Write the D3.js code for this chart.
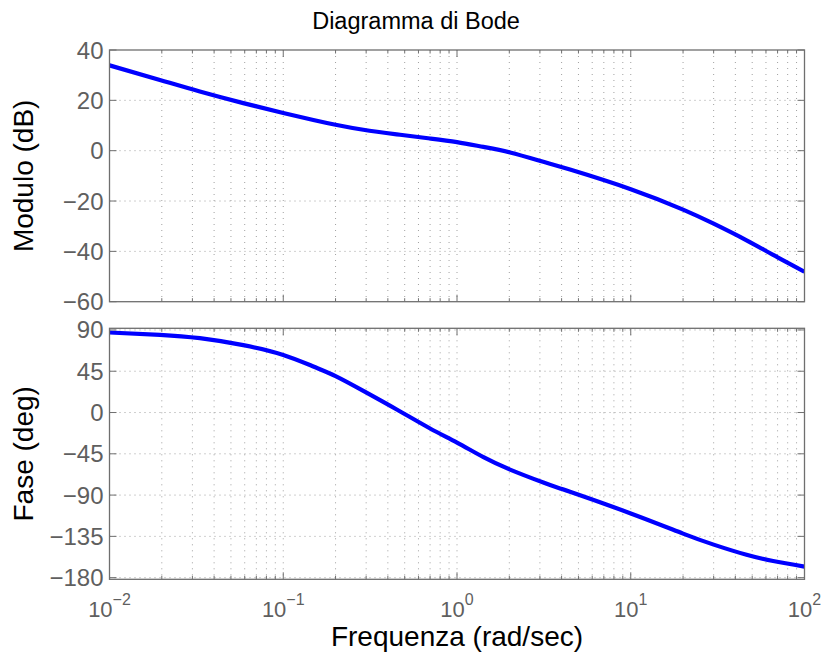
<!DOCTYPE html>
<html>
<head>
<meta charset="utf-8">
<script src="https://cdn.jsdelivr.net/npm/d3@7/dist/d3.min.js"></script>
<style>
  html, body { margin: 0; padding: 0; background: #ffffff; }
  svg { display: block; font-family: "Liberation Sans", Arial, Helvetica, sans-serif; }
</style>
</head>
<body>
<svg id="chart" width="821" height="655"></svg>
<script>
// ---- data ----
const magFreq = [0.01, 0.0195, 0.0331, 0.0589, 0.1, 0.149, 0.2, 0.289, 0.45, 0.70, 1.0, 1.42, 2.02, 3.14, 4.47, 10, 20, 30, 46.4, 66, 100];
const magDb   = [33.9, 28.1, 23.5, 18.9, 15.0, 12.2, 10.3, 8.3, 6.5, 4.85, 3.4, 1.5, -0.7, -4.4, -7.5, -15.3, -23.4, -29.0, -35.6, -41.4, -48.1];

const phaseFreq = [0.01, 0.0195, 0.0331, 0.0589, 0.1, 0.149, 0.2, 0.289, 0.45, 0.70, 1.0, 1.42, 2.02, 3.14, 3.92, 4.47, 10, 20, 30, 46.4, 66, 100];
const phaseDeg  = [87.2, 84.7, 81.0, 73.4, 62.8, 50.2, 39.7, 23.6, 3.3, -17.4, -32.8, -48.7, -62.2, -76.3, -82.9, -86.4, -110.0, -132.0, -144.0, -155.1, -161.9, -168.0];

const xTickValues = [0.01, 0.1, 1, 10, 100];
const xTickExponents = ["\u22122", "\u22121", "0", "1", "2"];
const magTicks = [40, 20, 0, -20, -40, -60];
const phaseTicks = [90, 45, 0, -45, -90, -135, -180];

const titleText = "Diagramma di Bode";
const xLabelText = "Frequenza (rad/sec)";
const magLabelText = "Modulo (dB)";
const phaseLabelText = "Fase (deg)";

// ---- layout ----
const svg = d3.select("#chart");
const left = 109.5, right = 804.5;
const magTop = 50, magBottom = 301.7;
const phTop = 328.3, phBottom = 579.3;

const x = d3.scaleLog().domain([0.01, 100]).range([left, right]);
const yMag = d3.scaleLinear().domain([-60, 40]).range([magBottom, magTop]);
const yPh = d3.scaleLinear().domain([-181.8, 91.8]).range([phBottom, phTop]);

const minorX = [];
for (let e = -2; e < 2; e++) {
  for (let m = 1; m <= 9; m++) minorX.push(m * Math.pow(10, e));
}
minorX.push(100);

const boxColor = "#6f6f6f";
const gridColor = "#a0a0a0";
const tickTextColor = "#5f5f5f";

function drawPanel(y, yTicks, top, bottom, freqs, vals, clipId) {
  const g = svg.append("g");
  g.selectAll(".vg").data(minorX.filter(v => v > 0.01 && v < 100)).enter().append("line")
    .attr("x1", d => x(d)).attr("x2", d => x(d))
    .attr("y1", top).attr("y2", bottom)
    .attr("stroke", gridColor).attr("stroke-width", 1)
    .attr("stroke-dasharray", "1,5");
  g.selectAll(".hg").data(yTicks.filter(v => y(v) > top + 1 && y(v) < bottom - 1)).enter().append("line")
    .attr("x1", left).attr("x2", right)
    .attr("y1", d => y(d)).attr("y2", d => y(d))
    .attr("stroke", gridColor).attr("stroke-width", 1)
    .attr("stroke-dasharray", "1,4");

  svg.append("clipPath").attr("id", clipId).append("rect")
    .attr("x", left).attr("y", top).attr("width", right - left).attr("height", bottom - top);

  const line = d3.line()
    .x(d => x(d[0])).y(d => y(d[1]))
    .curve(d3.curveNatural);
  svg.append("path")
    .datum(freqs.map((f, i) => [f, vals[i]]))
    .attr("d", line)
    .attr("fill", "none")
    .attr("stroke", "#0000ff")
    .attr("stroke-width", 4.2)
    .attr("stroke-linejoin", "round")
    .attr("clip-path", `url(#${clipId})`);

  svg.append("rect")
    .attr("x", left).attr("y", top).attr("width", right - left).attr("height", bottom - top)
    .attr("fill", "none").attr("stroke", boxColor).attr("stroke-width", 1.3);

  const tk = svg.append("g").attr("stroke", boxColor).attr("stroke-width", 1);
  minorX.forEach(v => {
    const major = xTickValues.includes(v);
    const len = major ? 7 : 3.5;
    tk.append("line").attr("x1", x(v)).attr("x2", x(v)).attr("y1", bottom).attr("y2", bottom - len);
    tk.append("line").attr("x1", x(v)).attr("x2", x(v)).attr("y1", top).attr("y2", top + len);
  });
  yTicks.forEach(v => {
    tk.append("line").attr("x1", left).attr("x2", left + 7).attr("y1", y(v)).attr("y2", y(v));
    tk.append("line").attr("x1", right).attr("x2", right - 7).attr("y1", y(v)).attr("y2", y(v));
  });

  svg.append("g").selectAll("text").data(yTicks).enter().append("text")
    .attr("x", left - 6).attr("y", d => y(d))
    .attr("text-anchor", "end").attr("dominant-baseline", "central")
    .attr("fill", tickTextColor).attr("font-size", 24)
    .text(d => d < 0 ? "\u2212" + Math.abs(d) : String(d));
}

drawPanel(yMag, magTicks, magTop, magBottom, magFreq, magDb, "clipMag");
drawPanel(yPh, phaseTicks, phTop, phBottom, phaseFreq, phaseDeg, "clipPh");

const xl = svg.append("g");
xTickValues.forEach((v, i) => {
  const t = xl.append("text")
    .attr("x", x(v)).attr("y", 617)
    .attr("text-anchor", "middle")
    .attr("fill", tickTextColor).attr("font-size", 22);
  t.append("tspan").text("10");
  t.append("tspan").attr("dy", -12).attr("font-size", 16).text(xTickExponents[i]);
});

svg.append("text").attr("x", 416).attr("y", 29)
  .attr("text-anchor", "middle").attr("font-size", 23.5).attr("fill", "#000")
  .text(titleText);
svg.append("text").attr("x", (left + right) / 2).attr("y", 646)
  .attr("text-anchor", "middle").attr("font-size", 28).attr("fill", "#000")
  .text(xLabelText);
svg.append("text")
  .attr("transform", `translate(33,${(magTop + magBottom) / 2}) rotate(-90)`)
  .attr("text-anchor", "middle").attr("font-size", 28).attr("fill", "#000")
  .text(magLabelText);
svg.append("text")
  .attr("transform", `translate(33,${(phTop + phBottom) / 2}) rotate(-90)`)
  .attr("text-anchor", "middle").attr("font-size", 28).attr("fill", "#000")
  .text(phaseLabelText);
</script>
</body>
</html>
